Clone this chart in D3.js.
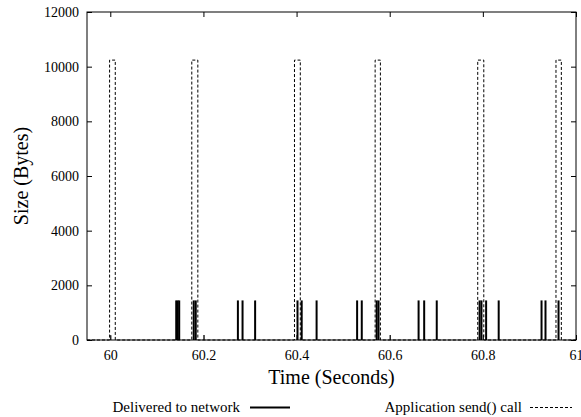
<!DOCTYPE html>
<html>
<head>
<meta charset="utf-8">
<script src="https://cdn.jsdelivr.net/npm/d3@7"></script>
<style>
  body { margin: 0; background: #fff; }
  text { font-family: "Liberation Serif", "DejaVu Serif", serif; fill: #000; }
</style>
</head>
<body>
<div id="chart"></div>
<script>
// application send() calls: start / end time and size
var sendStart = [59.9985, 60.175, 60.3955, 60.5687, 60.789, 60.957];
var sendEnd   = [60.0107, 60.188, 60.408, 60.580, 60.802, 60.9685];
var sendBytes = [10240, 10240, 10240, 10240, 10240, 10240];

// packets delivered to the network
var deliveredTime = [60.1416, 60.1448, 60.148, 60.1792, 60.1835, 60.274, 60.284, 60.311,
                     60.402, 60.411, 60.443, 60.530, 60.540, 60.572, 60.576,
                     60.662, 60.674, 60.701, 60.793, 60.797, 60.807, 60.834,
                     60.926, 60.9345, 60.9625];
var deliveredBytes = deliveredTime.map(function() { return 1448; });

// small packets
var smallTime  = [60.001, 60.2017, 60.601];
var smallBytes = [150, 180, 180];

var xTicks = [60, 60.2, 60.4, 60.6, 60.8, 61];
var yTicks = [0, 2000, 4000, 6000, 8000, 10000, 12000];

var W = 581, H = 417;
var mLeft = 87, mRight = 576, mTop = 12, mBottom = 340;

var svg = d3.select("#chart").append("svg")
    .attr("width", W)
    .attr("height", H);

var x = d3.scaleLinear().domain([59.95, 61]).range([mLeft, mRight]);
var y = d3.scaleLinear().domain([0, 12000]).range([mBottom, mTop]);

//send() calls as a dashed step line
var pts = [[59.95, 0]];
sendStart.forEach(function(s, i) {
  pts.push([s, 0], [s, sendBytes[i]], [sendEnd[i], sendBytes[i]], [sendEnd[i], 0]);
});
pts.push([61, 0]);

svg.append("path")
    .datum(pts)
    .attr("d", d3.line().x(function(d) { return x(d[0]); }).y(function(d) { return y(d[1]); }))
    .attr("fill", "none")
    .attr("stroke", "black")
    .attr("stroke-width", 1)
    .attr("stroke-dasharray", "3,2");

//delivered packets as impulses
svg.selectAll("line.pkt")
    .data(deliveredTime)
  .enter().append("line")
    .attr("class", "pkt")
    .attr("x1", function(d) { return x(d); })
    .attr("x2", function(d) { return x(d); })
    .attr("y1", y(0))
    .attr("y2", function(d, i) { return y(deliveredBytes[i]); })
    .attr("stroke", "black")
    .attr("stroke-width", 2);

svg.selectAll("line.small")
    .data(smallTime)
  .enter().append("line")
    .attr("class", "small")
    .attr("x1", function(d) { return x(d); })
    .attr("x2", function(d) { return x(d); })
    .attr("y1", y(0))
    .attr("y2", function(d, i) { return y(smallBytes[i]); })
    .attr("stroke", "#666")
    .attr("stroke-width", 1);

//axes with inward ticks on all four sides
var xFmt = function(d) { return String(+d.toFixed(1)); };

svg.append("g")
    .attr("transform", "translate(0," + mBottom + ")")
    .call(d3.axisBottom(x).tickValues(xTicks).tickFormat(xFmt).tickSizeInner(-5).tickSizeOuter(0).tickPadding(10))
    .call(function(g) { g.selectAll("text").attr("font-size", 14).attr("font-family", "Liberation Serif"); });

svg.append("g")
    .attr("transform", "translate(0," + mTop + ")")
    .call(d3.axisTop(x).tickValues(xTicks).tickFormat("").tickSizeInner(-5).tickSizeOuter(0));

svg.append("g")
    .attr("transform", "translate(" + mLeft + ",0)")
    .call(d3.axisLeft(y).tickValues(yTicks).tickFormat(d3.format("d")).tickSizeInner(-5).tickSizeOuter(0).tickPadding(8))
    .call(function(g) { g.selectAll("text").attr("font-size", 14).attr("font-family", "Liberation Serif"); });

svg.append("g")
    .attr("transform", "translate(" + mRight + ",0)")
    .call(d3.axisRight(y).tickValues(yTicks).tickFormat("").tickSizeInner(-5).tickSizeOuter(0));

svg.selectAll(".domain").remove();
svg.selectAll(".tick line").attr("stroke", "black");

svg.append("rect")
    .attr("x", mLeft)
    .attr("y", mTop)
    .attr("width", mRight - mLeft)
    .attr("height", mBottom - mTop)
    .attr("fill", "none")
    .attr("stroke", "black")
    .attr("stroke-width", 1);

//axis titles
svg.append("text")
    .attr("x", (mLeft + mRight) / 2)
    .attr("y", 384)
    .attr("text-anchor", "middle")
    .attr("font-size", 20)
    .text("Time (Seconds)");

svg.append("text")
    .attr("transform", "translate(28,176) rotate(-90)")
    .attr("text-anchor", "middle")
    .attr("font-size", 20)
    .text("Size (Bytes)");

//legend
svg.append("text")
    .attr("x", 240)
    .attr("y", 412)
    .attr("text-anchor", "end")
    .attr("font-size", 15)
    .text("Delivered to network");

svg.append("line")
    .attr("x1", 250).attr("x2", 290)
    .attr("y1", 407.5).attr("y2", 407.5)
    .attr("stroke", "black")
    .attr("stroke-width", 2);

svg.append("text")
    .attr("x", 522)
    .attr("y", 412)
    .attr("text-anchor", "end")
    .attr("font-size", 15)
    .text("Application send() call");

svg.append("line")
    .attr("x1", 530).attr("x2", 572)
    .attr("y1", 407.5).attr("y2", 407.5)
    .attr("stroke", "black")
    .attr("stroke-width", 1)
    .attr("stroke-dasharray", "3,2");
</script>
</body>
</html>
